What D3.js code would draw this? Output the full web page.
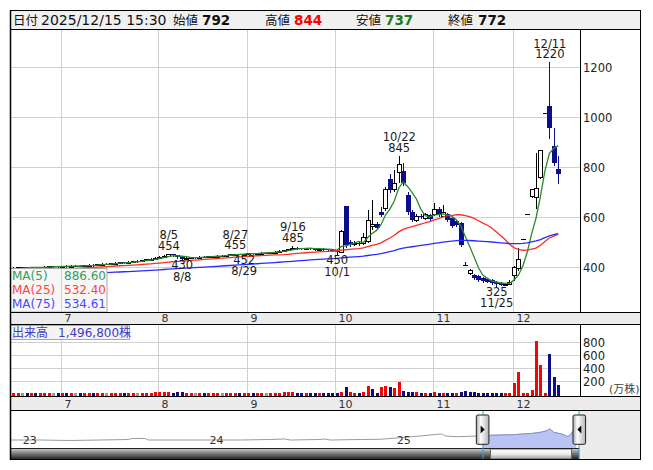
<!DOCTYPE html>
<html>
<head>
<meta charset="utf-8">
<script src="https://cdn.jsdelivr.net/npm/d3@7/dist/d3.min.js"></script>
<style>
html,body{margin:0;padding:0;background:#fff;}
svg{display:block;}
text{font-family:'DejaVu Sans','Noto Sans CJK JP',sans-serif;}
</style>
</head>
<body>
<svg id="chart" width="653" height="470"></svg>
<script>
// ---------------- DATA ----------------
const year = 2025;
const quoteTime = "15:30";
const dates = [
"6/16","6/17","6/18","6/19","6/20","6/23","6/24","6/25","6/26","6/27","6/30",
"7/1","7/2","7/3","7/4","7/7","7/8","7/9","7/10","7/11","7/14","7/15","7/16","7/17","7/18","7/22","7/23","7/24","7/25","7/28","7/29","7/30","7/31",
"8/1","8/4","8/5","8/6","8/7","8/8","8/12","8/13","8/14","8/15","8/18","8/19","8/20","8/21","8/22","8/25","8/26","8/27","8/28","8/29",
"9/1","9/2","9/3","9/4","9/5","9/8","9/9","9/10","9/11","9/12","9/16","9/17","9/18","9/19","9/22","9/24","9/25","9/26","9/29","9/30",
"10/1","10/2","10/3","10/6","10/7","10/8","10/9","10/10","10/14","10/15","10/16","10/17","10/20","10/21","10/22","10/23","10/24","10/27","10/28","10/29","10/30","10/31",
"11/4","11/5","11/6","11/7","11/10","11/11","11/12","11/13","11/14","11/17","11/18","11/19","11/20","11/21","11/25","11/26","11/27","11/28",
"12/1","12/2","12/3","12/4","12/5","12/8","12/9","12/10","12/11","12/12","12/15"];
const opens = [
397,398,401,400,399,401,398,400,402,405,404,
403,406,404,406,407,405,408,411,409,412,415,414,416,418,421,419,422,426,425,429,432,435,
438,442,447,452,448,444,434,438,440,440,443,442,444,445,447,447,450,452,454,453,
454,456,455,457,459,459,461,463,466,469,474,479,477,475,476,474,473,475,472,469,
466,462,645,500,492,498,498,505,565,575,622,636,752,712,782,786,689,622,588,606,598,610,
612,634,606,612,598,584,578,409,378,370,365,357,352,348,342,338,332,335,
370,398,512,612,685,680,762,1018,1045,885,792];
const highs = [
401,402,403,401,403,402,401,404,406,407,406,
407,408,408,408,409,410,412,412,414,416,417,418,420,422,423,424,427,428,431,434,437,440,
444,449,454,453,449,446,440,442,442,445,445,446,447,449,449,451,453,455,454,454,
458,458,459,461,461,463,465,468,471,475,485,481,479,478,477,476,477,476,474,471,
468,548,645,510,505,503,538,630,669,580,640,722,772,790,845,818,700,628,612,612,616,615,
658,640,650,616,602,588,582,420,394,373,368,362,358,352,345,341,339,348,
405,478,512,612,712,858,869,1018,1220,956,844];
const lows = [
395,397,398,396,398,396,397,399,401,402,401,
402,403,403,404,404,404,407,407,408,411,412,413,415,417,418,418,421,423,424,428,431,434,
437,441,446,446,438,430,433,437,438,439,440,441,443,444,445,446,449,451,453,452,
453,453,454,456,457,458,460,462,465,468,473,475,473,473,472,471,472,470,467,465,
450,460,482,485,488,490,495,500,552,552,605,630,700,705,740,730,615,585,585,598,595,590,
608,606,604,585,562,564,486,409,372,354,345,342,340,335,325,328,329,332,
349,390,512,612,680,636,758,1018,916,809,737];
const closes = [
398,400,400,399,401,398,400,402,404,404,403,
405,404,406,406,405,408,410,409,412,414,414,416,418,420,419,422,425,425,429,432,435,438,
442,447,452,448,440,434,438,440,440,443,442,444,445,447,447,450,452,454,453,454,
456,455,457,459,459,461,463,466,469,473,479,477,475,476,474,473,475,472,469,467,
460,545,488,492,498,495,520,590,575,558,610,712,708,738,813,736,622,590,606,604,612,594,
632,610,622,588,565,568,489,409,388,356,348,345,342,338,333,331,335,342,
402,432,512,612,712,718,869,1018,958,816,772];
// volume in 万株 (10,000 shares)
const volumes = [
18,20,15,17,22,16,19,21,24,18,17,
20,16,19,15,18,22,21,17,23,24,16,20,22,25,18,21,26,19,24,27,25,28,
30,34,38,26,28,30,22,20,17,21,18,20,19,22,18,21,24,26,19,18,
22,19,20,23,17,21,24,26,28,30,38,27,22,20,19,18,21,20,22,24,
20,31,113,30,26,26,31,128,77,26,113,128,113,92,190,51,36,31,31,20,26,20,
31,26,26,26,20,20,36,51,36,31,26,20,20,20,20,20,20,20,
179,344,20,26,67,820,451,20,615,267,149.68];
// closes before the visible window (needed for the moving averages)
const priorCloses = [
342,345,341,338,343,347,344,340,346,349,345,343,348,351,347,344,350,352,349,346,351,
353,350,355,357,352,356,359,355,353,358,361,357,360,363,359,356,362,365,361,364,367,363,360,366,369,365,368,371,366,364,369,372,368,371,374,370,373,376,372,369,375,378,374,377,
380,377,383,386,382,388,391,387,392];
const priceTicks = [400,600,800,1000,1200];
const volumeTicks = [200,400,600,800];
const monthLabels = ["7","8","9","10","11","12"];
const monthStarts = ["7/1","8/1","9/1","10/1","11/4","12/1"];
const annDates = ["8/5","8/8","8/27","8/29","9/16","10/1","10/22","11/25","12/11"];
const annTypes = ["high","low","high","low","high","low","high","low","high"];
const maPeriods = [5,25,75];
const maNames = ["MA(5)","MA(25)","MA(75)"];
const navDates = ["2022-12-05","2023-02-01","2023-04-01","2023-05-30","2023-07-24","2023-08-01","2023-08-26","2023-09-01","2023-11-03",
"2024-01-01","2024-02-28","2024-04-27","2024-05-26","2024-06-05","2024-08-02","2024-08-12","2024-08-22","2024-10-20","2024-11-28",
"2025-01-06","2025-02-14","2025-03-19","2025-03-29","2025-04-04","2025-04-27","2025-06-06","2025-07-01","2025-08-15","2025-09-23",
"2025-10-07","2025-10-20","2025-10-25","2025-11-02","2025-11-19","2025-11-30","2025-12-07","2025-12-10","2025-12-16"];
const navValues = [204,204,176,204,232,289,289,204,204,204,204,232,261,204,232,261,204,232,244,335,431,528,545,431,391,431,471,505,584,641,732,845,641,528,391,584,732,942];

// ---------------- SETUP ----------------
const svg = d3.select("#chart");
const n = dates.length;
const X0 = 10, X1 = 580, XR = 640;
const PT = 29, PB = 312, VT = 324.5, VB = 396.5, NT = 410.5, NB = 448.5, SB = 459.5;
const x = d3.scaleLinear().domain([-0.745, 127.92]).range([X0, X1]);
const y = d3.scaleLinear().domain([400, 1200]).range([267.3, 67.3]);
const yv = d3.scaleLinear().domain([0, 800]).range([394.3, 342.3]);
const parseD = d3.timeParse("%Y-%m-%d");
const navX = d3.scaleTime().domain([new Date(2022,11,5), new Date(2025,11,22)]).range([X0, 579.3]);
const navY = d3.scaleLinear().domain([-250, 1850]).range([448, 411]);

const C = {
  down: "#0c0c8c", grid: "#d0d0d0", band: "#ececec",
  ma: ["#2b8a2b", "#ff2a2a", "#2a2aff"], leg: ["#3a9a5a", "#ff4444", "#4848ff"],
  volUp: "#ff0000", volDown: "#0c0c8c", volFlat: "#999999", text: "#1a1a1a"
};
const half = v => Math.round(v) + 0.5;

const defs = svg.append("defs");
defs.append("clipPath").attr("id", "clipP").append("rect")
  .attr("x", X0).attr("y", PT).attr("width", X1 - X0).attr("height", PB - PT);
defs.append("clipPath").attr("id", "clipV").append("rect")
  .attr("x", X0).attr("y", VT).attr("width", X1 - X0).attr("height", VB - VT);
defs.append("clipPath").attr("id", "clipN").append("rect")
  .attr("x", X0).attr("y", NT).attr("width", 579.3 - X0).attr("height", NB - NT);
function lg(id, x2, y2, stops) {
  const g = defs.append("linearGradient").attr("id", id)
    .attr("x1", 0).attr("y1", 0).attr("x2", x2).attr("y2", y2);
  stops.forEach(s => g.append("stop").attr("offset", s[0]).attr("stop-color", s[1]));
}
lg("gTrack", 0, 1, [[0, "#cfcfcf"], [0.45, "#7a7a7a"], [1, "#1e1e1e"]]);
lg("gThumb", 0, 1, [[0, "#ffffff"], [0.5, "#ececec"], [1, "#9c9c9c"]]);
lg("gHandle", 1, 0, [[0, "#a8a8a8"], [0.35, "#ffffff"], [1, "#b4b4b4"]]);

// ---------------- BACKGROUNDS ----------------
svg.append("rect").attr("width", 653).attr("height", 470).attr("fill", "#fff");
svg.append("rect").attr("x", X0).attr("y", 10).attr("width", XR - X0).attr("height", PT - 10).attr("fill", "#f0f0f0");
svg.append("rect").attr("x", X0).attr("y", PB).attr("width", XR - X0).attr("height", VT - PB).attr("fill", C.band);
svg.append("rect").attr("x", X0).attr("y", VB).attr("width", XR - X0).attr("height", NT - VB).attr("fill", C.band);
svg.append("rect").attr("x", 579.3).attr("y", NT).attr("width", XR - 579.3).attr("height", SB - NT).attr("fill", C.band);

// ---------------- GRID ----------------
const monthIdx = monthStarts.map(d => dates.indexOf(d));
const gx = i => half(x(i - 0.3));
const grid = svg.append("g").attr("stroke", C.grid).attr("stroke-width", 1);
priceTicks.forEach(t => grid.append("line").attr("x1", X0).attr("x2", X1).attr("y1", half(y(t))).attr("y2", half(y(t))));
volumeTicks.forEach(t => grid.append("line").attr("x1", X0).attr("x2", X1).attr("y1", half(yv(t))).attr("y2", half(yv(t))));
monthIdx.forEach(i => {
  grid.append("line").attr("x1", gx(i)).attr("x2", gx(i)).attr("y1", PT).attr("y2", PB);
  grid.append("line").attr("x1", gx(i)).attr("x2", gx(i)).attr("y1", VT).attr("y2", VB);
});

// ---------------- CANDLES ----------------
const cg = svg.append("g").attr("clip-path", "url(#clipP)");
for (let i = 0; i < n; i++) {
  const o = opens[i], h = highs[i], l = lows[i], c = closes[i];
  const r = Math.round(x(i));
  const up = c > o, flat = c === o;
  const col = up || flat ? "#000" : C.down;
  if (h !== l) cg.append("line").attr("x1", r + 0.5).attr("x2", r + 0.5)
      .attr("y1", Math.round(y(h))).attr("y2", Math.round(y(l)) + 1).attr("stroke", col);
  if (flat) {
    cg.append("line").attr("x1", r - 2).attr("x2", r + 3)
      .attr("y1", half(y(c))).attr("y2", half(y(c))).attr("stroke", "#000");
  } else if (up) {
    const yt = Math.round(y(c)), yb = Math.round(y(o));
    cg.append("rect").attr("x", r - 1.5).attr("y", yt + 0.5).attr("width", 4)
      .attr("height", Math.max(yb - yt, 1)).attr("fill", "#fff").attr("stroke", "#000");
  } else {
    const yt = Math.round(y(o)), yb = Math.round(y(c));
    cg.append("rect").attr("x", r - 2).attr("y", yt).attr("width", 5)
      .attr("height", Math.max(yb - yt, 1)).attr("fill", C.down);
  }
}

// ---------------- MOVING AVERAGES ----------------
const allCloses = priorCloses.concat(closes);
const off = priorCloses.length;
const maSeries = maPeriods.map(p => closes.map((_, i) =>
  d3.mean(allCloses.slice(i + off - p + 1, i + off + 1))));
const line = d3.line().x((d, i) => x(i)).y(d => y(d));
maSeries.forEach((s, k) => cg.append("path").attr("d", line(s)).attr("fill", "none")
  .attr("stroke", C.ma[k]).attr("stroke-width", 1.3));

// ---------------- HIGH / LOW ANNOTATIONS ----------------
const ag = svg.append("g").attr("font-size", 11.5).attr("fill", C.text).attr("text-anchor", "middle");
annDates.forEach((d, k) => {
  const i = dates.indexOf(d);
  const cx = x(i) + 0.5;
  if (annTypes[k] === "high") {
    const yy = y(highs[i]);
    ag.append("text").attr("x", cx).attr("y", yy - 14.8).text(d);
    ag.append("text").attr("x", cx).attr("y", yy - 4.3).text(highs[i]);
  } else {
    const yy = y(lows[i]);
    ag.append("text").attr("x", cx).attr("y", yy + 9.5).text(lows[i]);
    ag.append("text").attr("x", cx).attr("y", yy + 20.7).text(d);
  }
});

// ---------------- MA LEGEND ----------------
svg.append("rect").attr("x", 10.5).attr("y", 268.5).attr("width", 96.5).attr("height", 43.5)
  .attr("fill", "#f7f7f7").attr("stroke", "#a8a8a8");
svg.append("line").attr("x1", gx(monthIdx[0])).attr("x2", gx(monthIdx[0])).attr("y1", 269).attr("y2", PB)
  .attr("stroke", C.grid);
maNames.forEach((nm, k) => {
  const by = 280 + k * 14;
  svg.append("text").attr("x", 12).attr("y", by).attr("font-size", 12).attr("fill", C.leg[k]).text(nm);
  svg.append("text").attr("x", 64).attr("y", by).attr("font-size", 12).attr("fill", C.leg[k])
    .text(maSeries[k][n - 1].toFixed(2));
});

// ---------------- VOLUME ----------------
const vg = svg.append("g").attr("clip-path", "url(#clipV)");
for (let i = 0; i < n; i++) {
  const prev = i === 0 ? priorCloses[off - 1] : closes[i - 1];
  const col = closes[i] > prev ? C.volUp : closes[i] < prev ? C.volDown : C.volFlat;
  const r = Math.round(x(i));
  const top = Math.round(yv(volumes[i]));
  vg.append("rect").attr("x", r - 1).attr("y", top).attr("width", 3).attr("height", 396 - top).attr("fill", col);
}
svg.append("rect").attr("x", 10.5).attr("y", 325.5).attr("width", 119).attr("height", 14)
  .attr("fill", "#f4f4f4").attr("stroke", "#a8a8a8");
svg.append("text").attr("x", 12).attr("y", 337).attr("font-size", 12).attr("fill", "#3c3cc8").text("出来高");
svg.append("text").attr("x", 58).attr("y", 337).attr("font-size", 12).attr("fill", "#3c3cc8")
  .text(d3.format(",")(Math.round(volumes[n - 1] * 10000)) + "株");

// ---------------- AXES LABELS ----------------
const axg = svg.append("g").attr("font-size", 11.5).attr("fill", "#222");
priceTicks.forEach(t => axg.append("text").attr("x", 583).attr("y", y(t) + 4.2).text(t));
volumeTicks.forEach(t => axg.append("text").attr("x", 583).attr("y", yv(t) + 4.2).text(t));
axg.append("text").attr("x", 609).attr("y", 393).attr("font-size", 11).attr("fill", "#444").text("(万株)");
const mg = svg.append("g").attr("font-size", 11).attr("fill", "#333");
monthIdx.forEach((i, k) => {
  mg.append("text").attr("x", gx(i) + 3).attr("y", 322).text(monthLabels[k]);
  mg.append("text").attr("x", gx(i) + 3).attr("y", 407.5).text(monthLabels[k]);
});

// ---------------- NAVIGATOR ----------------
const navPts = navDates.map((d, i) => [navX(parseD(d)), navY(navValues[i])]);
const winL = navX(new Date(year, 5, 16)), winR = 579.3;
const ng = svg.append("g").attr("clip-path", "url(#clipN)");
ng.append("path").attr("d", d3.line()(navPts)).attr("fill", "none").attr("stroke", "#9a9a9a").attr("stroke-width", 1);
defs.append("clipPath").attr("id", "clipW").append("rect")
  .attr("x", winL).attr("y", NT).attr("width", winR - winL).attr("height", NB - NT);
const wg = svg.append("g").attr("clip-path", "url(#clipW)");
wg.append("path").attr("d", d3.area().x(d => d[0]).y0(448).y1(d => d[1])(navPts)).attr("fill", "#b9c4f4");
wg.append("path").attr("d", d3.line()(navPts)).attr("fill", "none").attr("stroke", "#8a90d4").attr("stroke-width", 1);
const yrs = navX.ticks(d3.timeYear.every(1));
yrs.forEach(t => svg.append("text").attr("x", navX(t) - 1).attr("y", 444).attr("font-size", 11)
  .attr("fill", "#333").text(d3.timeFormat("%y")(t)));
// scrollbar
svg.append("rect").attr("x", X0).attr("y", NB).attr("width", 490 - X0).attr("height", SB - NB).attr("fill", "url(#gTrack)");
svg.append("rect").attr("x", 571.7).attr("y", NB).attr("width", winR - 571.7).attr("height", SB - NB).attr("fill", "url(#gTrack)");
svg.append("rect").attr("x", 490.5).attr("y", NB + 0.5).attr("width", 81).attr("height", SB - NB - 1)
  .attr("fill", "url(#gThumb)").attr("stroke", "#666");
svg.append("line").attr("x1", X0).attr("x2", winR).attr("y1", NB).attr("y2", NB).attr("stroke", "#222");
[winL, winR].forEach(v => svg.append("line").attr("x1", half(v) - 0.5).attr("x2", half(v) - 0.5)
  .attr("y1", NT).attr("y2", SB).attr("stroke", "#2aa3d9"));
// handles
[[winL, -1], [winR, 1]].forEach(([cx, dir]) => {
  svg.append("rect").attr("x", cx - 6.3).attr("y", 415).attr("width", 12.6).attr("height", 29.3)
    .attr("rx", 1.5).attr("fill", "url(#gHandle)").attr("stroke", "#222");
  svg.append("path").attr("d", `M${cx - 2 * dir},429.5 L${cx + 2 * dir},425.5 L${cx + 2 * dir},433.5 Z`).attr("fill", "#000");
});

// ---------------- FRAME LINES ----------------
const fr = svg.append("g").attr("stroke", "#000").attr("stroke-width", 1);
[10.5, PT + 0.5, PB + 0.5, VT, VB, NT, SB].forEach(v =>
  fr.append("line").attr("x1", X0).attr("x2", XR + 1).attr("y1", v).attr("y2", v));
fr.append("line").attr("x1", 10.5).attr("x2", 10.5).attr("y1", 10).attr("y2", SB + 0.5).attr("stroke-width", 1.5);
fr.append("line").attr("x1", XR + 0.5).attr("x2", XR + 0.5).attr("y1", 10).attr("y2", SB + 0.5);
fr.append("line").attr("x1", X1 + 0.5).attr("x2", X1 + 0.5).attr("y1", PT).attr("y2", PB);
fr.append("line").attr("x1", X1 + 0.5).attr("x2", X1 + 0.5).attr("y1", VT).attr("y2", VB);

// ---------------- HEADER ----------------
const hg = svg.append("g").attr("fill", "#111");
const last = n - 1;
const md = dates[last].split("/").map(s => s.padStart(2, "0")).join("/");
hg.append("text").attr("x", 13).attr("y", 24.5).attr("font-size", 12.5).text("日付");
hg.append("text").attr("x", 41).attr("y", 24.5).attr("font-size", 14).text(`${year}/${md} ${quoteTime}`);
const hv = [["始値", opens[last], "#111", 173, 202], ["高値", highs[last], "#ff0000", 265, 294],
            ["安値", lows[last], "#1a7a1a", 356, 385], ["終値", closes[last], "#111", 448, 478]];
hv.forEach(([lb, v, col, lx, vx]) => {
  hg.append("text").attr("x", lx).attr("y", 24.5).attr("font-size", 12.5).text(lb);
  hg.append("text").attr("x", vx).attr("y", 24.5).attr("font-size", 13.5).attr("font-weight", "bold")
    .attr("fill", col).text(v);
});
</script>
</body>
</html>
